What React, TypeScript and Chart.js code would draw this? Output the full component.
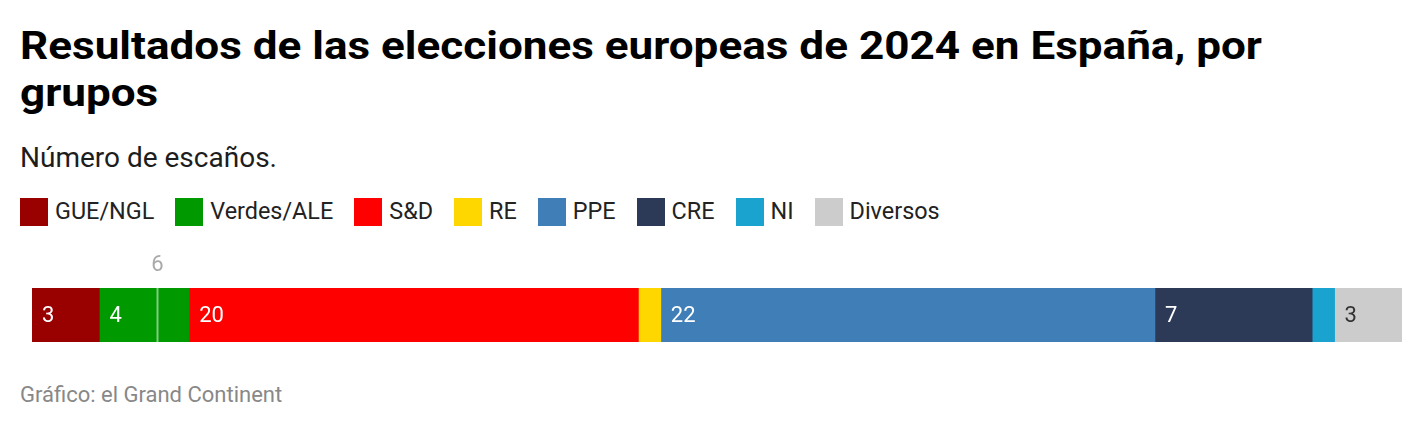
import React, { useEffect, useLayoutEffect, useRef } from 'react';
import { Chart, registerables } from 'chart.js';

Chart.register(...registerables);

const categories = ['España'];
const groups = ['GUE/NGL', 'Verdes/ALE', 'S&D', 'RE', 'PPE', 'CRE', 'NI', 'Diversos'];
const seats = [3, 4, 20, 1, 22, 7, 1, 3];
const groupColors = ['#990000', '#009900', '#ff0000', '#ffd700', '#3f7eb6', '#2c3a57', '#1ba3d0', '#cccccc'];
const labelColors = ['#ffffff', '#ffffff', '#ffffff', '#ffffff', '#ffffff', '#ffffff', '#ffffff', '#333333'];
const markerValues = [5.55];
const markerLabels = ['6'];

const titleLine1 = 'Resultados de las elecciones europeas de 2024 en España, por';
const titleLine2 = 'grupos';
const subtitle = 'Número de escaños.';
const footer = 'Gráfico: el Grand Continent';

const FONT = 'Roboto, "Noto Sans", Arial, sans-serif';

const segmentLabels = {
  id: 'segmentLabels',
  afterDatasetsDraw(chart: any) {
    const ctx = chart.ctx;
    ctx.save();
    ctx.font = `22px ${FONT}`;
    ctx.textBaseline = 'middle';
    ctx.textAlign = 'left';
    chart.data.datasets.forEach((ds: any, i: number) => {
      const meta = chart.getDatasetMeta(i);
      const el = meta.data[0];
      if (!el) return;
      const p = el.getProps(['x', 'base', 'y'], true);
      const left = Math.min(p.x, p.base);
      const w = Math.abs(p.x - p.base);
      const txt = String(ds.data[0]);
      if (ctx.measureText(txt).width + 20 > w) return;
      ctx.fillStyle = labelColors[i];
      ctx.fillText(txt, left + 10, p.y + 1);
    });
    const xs = chart.scales.x;
    const area = chart.chartArea;
    markerValues.forEach((v, i) => {
      const px = Math.round(xs.getPixelForValue(v)) + 0.5;
      ctx.strokeStyle = 'rgba(255,255,255,0.5)';
      ctx.lineWidth = 2;
      ctx.beginPath();
      ctx.moveTo(px, area.top);
      ctx.lineTo(px, area.bottom);
      ctx.stroke();
      ctx.fillStyle = '#aaaaaa';
      ctx.textAlign = 'center';
      ctx.fillText(markerLabels[i], px, area.top - 23);
    });
    ctx.restore();
  },
};

export default function App() {
  const canvasRef = useRef<HTMLCanvasElement>(null);
  const t1 = useRef<HTMLDivElement>(null);
  const t2 = useRef<HTMLDivElement>(null);

  useLayoutEffect(() => {
    if (t1.current && t2.current) {
      const w = t1.current.getBoundingClientRect().width;
      const s = 1242 / w;
      t1.current.style.transform = `scaleX(${s})`;
      t2.current.style.transform = `scaleX(${s})`;
    }
  }, []);

  useEffect(() => {
    if (!canvasRef.current) return;
    const total = seats.reduce((a, b) => a + b, 0);
    const chart = new Chart(canvasRef.current, {
      type: 'bar',
      data: {
        labels: categories,
        datasets: groups.map((g, i) => ({
          label: g,
          data: [seats[i]],
          backgroundColor: groupColors[i],
          borderWidth: 0,
          barPercentage: 1,
          categoryPercentage: 1,
        })),
      },
      options: {
        indexAxis: 'y',
        animation: false,
        responsive: true,
        maintainAspectRatio: false,
        layout: { padding: { left: 32, right: 22, top: 48, bottom: 8 } },
        plugins: { legend: { display: false }, tooltip: { enabled: false }, title: { display: false } },
        scales: {
          x: { stacked: true, min: 0, max: total, display: false },
          y: { stacked: true, display: false },
        },
      },
      plugins: [segmentLabels],
    } as any);
    return () => chart.destroy();
  }, []);

  const lineStyle: React.CSSProperties = {
    display: 'inline-block',
    whiteSpace: 'nowrap',
    transformOrigin: 'left center',
  };

  return (
    <div style={{ position: 'absolute', left: 0, top: 0, width: 1424, height: 430, background: '#fff', fontFamily: FONT, overflow: 'hidden' }}>
      <div style={{ position: 'absolute', left: 20, top: 23, fontSize: 38, lineHeight: '47px', fontWeight: 700, color: '#000' }}>
        <div><div ref={t1} style={lineStyle}>{titleLine1}</div></div>
        <div><div ref={t2} style={lineStyle}>{titleLine2}</div></div>
      </div>
      <div style={{ position: 'absolute', left: 20, top: 144, fontSize: 28, lineHeight: '28px', color: '#1d1d1d', whiteSpace: 'nowrap' }}>
        {subtitle}
      </div>
      <div style={{ position: 'absolute', left: 20, top: 198, display: 'flex', alignItems: 'center', height: 28 }}>
        {groups.map((g, i) => (
          <div key={g} style={{ display: 'flex', alignItems: 'center', marginRight: 21 }}>
            <div style={{ width: 28, height: 28, background: groupColors[i] }} />
            <div style={{ marginLeft: 7, fontSize: 23.4, lineHeight: '28px', color: '#222', position: 'relative', top: -1.5, whiteSpace: 'nowrap' }}>{g}</div>
          </div>
        ))}
      </div>
      <div style={{ position: 'absolute', left: 0, top: 240, width: 1424, height: 110 }}>
        <canvas ref={canvasRef} />
      </div>
      <div style={{ position: 'absolute', left: 20, top: 384, fontSize: 22, lineHeight: '22px', color: '#888' }}>{footer}</div>
    </div>
  );
}
